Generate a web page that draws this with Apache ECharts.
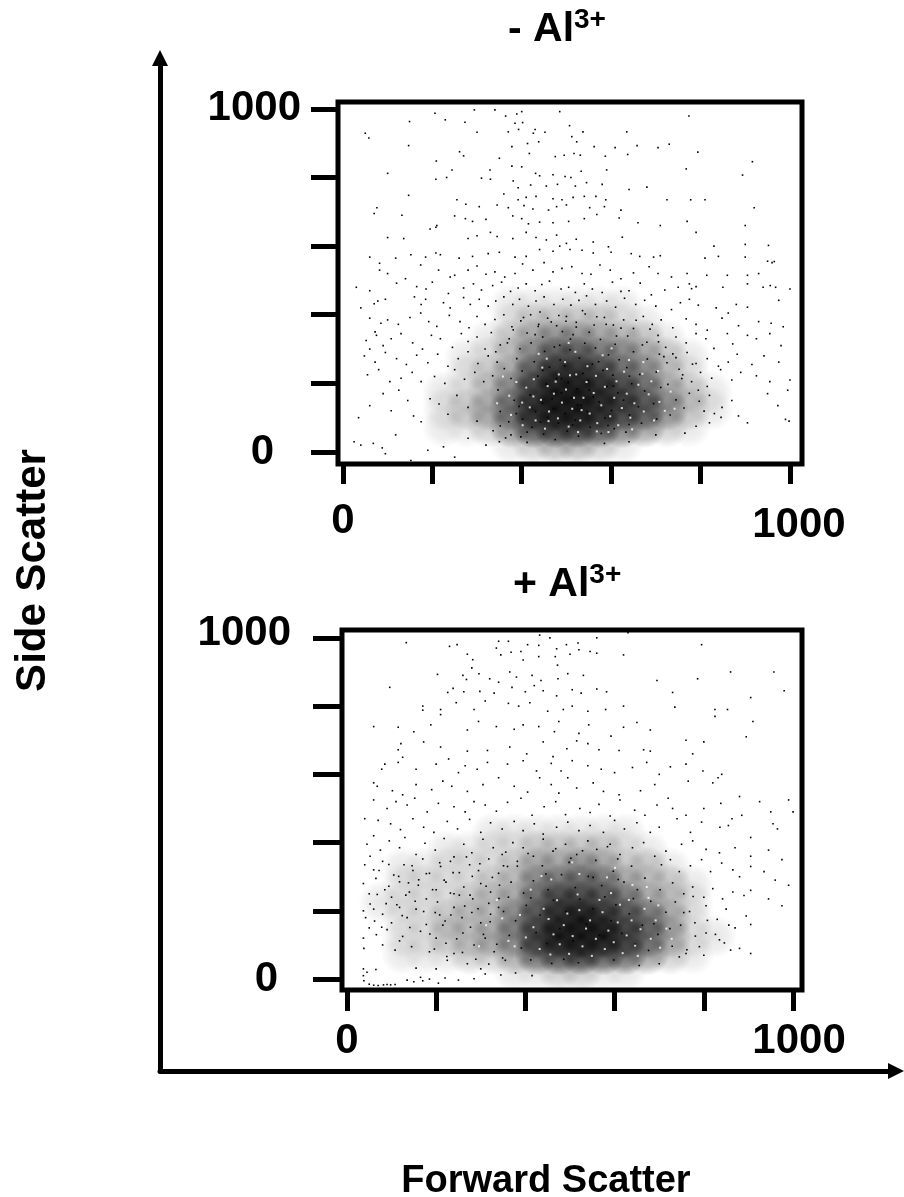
<!DOCTYPE html>
<html><head><meta charset="utf-8">
<style>html,body{margin:0;padding:0;background:#fff}#c{width:904px;height:1197px}</style>
<script src="https://cdn.jsdelivr.net/npm/echarts@6/dist/echarts.min.js"></script>
</head><body><div id="c"></div>
<script>
const tickValues=[0,200,400,600,800,1000];
const labelValues=[0,1000];
const panelTitles=['- Al','+ Al'];
const superscript='3+';
const xAxisName='Forward Scatter';
const yAxisName='Side Scatter';
// Darkness of the dot cloud (0-9); cell centres in axis units.
const densX=[25,75,125,175,225,275,325,375,425,475,525,575,625,675,725,775,825,875,925,975];
const densY=[25,75,125,175,225,275,325,375,425];
const dens1=[
[0,0,0,0,0,0,0,1,2,3,3,2,1,0,0,0,0,0,0,0],
[0,0,0,0,1,1,2,4,7,8,8,7,5,4,2,1,0,0,0,0],
[0,0,0,0,1,2,3,5,8,9,9,8,7,6,4,2,1,0,0,0],
[0,0,0,0,1,1,2,4,7,9,9,8,7,5,3,2,1,0,0,0],
[0,0,0,0,0,1,2,3,6,8,8,7,5,4,2,1,0,0,0,0],
[0,0,0,0,0,1,1,2,4,6,6,5,4,3,2,1,0,0,0,0],
[0,0,0,0,0,0,1,2,3,4,4,3,3,2,1,0,0,0,0,0],
[0,0,0,0,0,0,0,1,2,2,2,2,1,1,0,0,0,0,0,0],
[0,0,0,0,0,0,0,1,1,1,1,1,1,0,0,0,0,0,0,0]];
const dens2=[
[0,0,0,0,0,0,0,1,1,2,2,1,1,0,0,0,0,0,0,0],
[0,0,1,1,1,2,2,3,6,7,8,7,6,4,2,1,0,0,0,0],
[0,0,1,1,2,2,3,4,7,9,9,9,7,5,3,1,1,0,0,0],
[0,0,1,1,2,2,2,4,6,8,9,8,6,5,3,1,0,0,0,0],
[0,1,1,1,1,2,2,3,5,7,7,6,5,3,2,1,0,0,0,0],
[0,0,1,1,1,1,2,2,4,5,5,5,3,2,2,1,0,0,0,0],
[0,0,1,1,1,1,1,2,3,3,4,3,2,2,1,0,0,0,0,0],
[0,0,0,0,1,1,1,1,2,2,2,2,1,1,0,0,0,0,0,0],
[0,0,0,0,0,0,1,1,1,1,1,1,1,0,0,0,0,0,0,0]];
const dots1=[[50,929],[58,915],[149,963],[206,987],[229,968],[273,961],[294,997],[340,997],[364,979],[400,992],[389,985],[485,992],[774,979],[300,932],[385,958],[402,960],[393,940],[370,933],[430,940],[452,932],[426,929],[507,951],[512,919],[537,933],[635,933],[147,893],[378,890],[413,899],[438,904],[523,904],[562,890],[609,887],[658,893],[705,887],[730,897],[794,874],[261,875],[270,863],[209,848],[350,856],[417,870],[475,861],[495,865],[517,870],[531,865],[587,862],[637,867],[916,846],[100,812],[894,807],[768,825],[244,822],[329,822],[378,833],[400,831],[431,812],[440,805],[470,808],[497,803],[510,800],[533,818],[590,822],[310,798],[330,795],[208,795],[232,800],[381,790],[392,770],[420,778],[455,775],[480,780],[520,775],[545,785],[580,780],[640,765],[680,772],[147,748],[360,752],[392,735],[410,742],[432,745],[470,738],[490,735],[515,742],[540,745],[566,745],[588,735],[725,735],[778,735],[810,735],[255,735],[275,722],[305,715],[345,720],[370,712],[405,718],[425,708],[460,705],[478,715],[500,720],[552,712],[585,715],[622,705],[920,712],[76,712],[70,695],[132,690],[195,650],[250,688],[274,680],[290,672],[320,678],[380,688],[400,680],[415,665],[440,670],[470,668],[505,672],[540,680],[568,692],[618,682],[660,668],[710,660],[770,672],[100,625],[136,622],[208,655],[210,660],[280,622],[300,630],[330,640],[345,628],[380,622],[410,640],[432,625],[455,618],[478,632],[500,608],[522,620],[560,612],[594,598],[625,626],[790,640],[830,600],[900,660],[900,605],[952,602],[60,568],[82,550],[118,565],[152,575],[185,568],[208,580],[218,575],[260,565],[290,570],[325,578],[350,582],[385,568],[410,570],[440,590],[470,585],[485,600],[508,590],[535,588],[560,580],[600,582],[645,578],[664,570],[695,568],[710,572],[810,565],[840,570],[900,568],[950,556],[960,552],[965,555],[82,530],[100,520],[140,505],[174,545],[214,530],[240,510],[250,515],[280,530],[300,542],[320,518],[340,525],[362,510],[385,520],[402,548],[425,530],[450,552],[470,525],[490,535],[512,540],[535,520],[555,518],[575,545],[598,530],[622,505],[650,522],[685,540],[705,520],[735,510],[770,520],[814,515],[860,515],[905,515],[930,520],[968,480],[1000,475],[30,480],[60,470],[120,492],[165,482],[186,475],[200,495],[236,462],[270,478],[292,490],[310,472],[335,485],[355,495],[375,468],[392,478],[410,490],[430,470],[445,488],[462,498],[488,475],[505,480],[520,465],[540,490],[558,475],[580,465],[603,495],[622,468],[640,470],[665,492],[690,458],[720,472],[750,480],[775,490],[780,476],[790,482],[850,480],[905,490],[940,480],[956,485],[40,420],[70,432],[78,440],[95,445],[160,452],[175,430],[185,445],[225,435],[240,420],[270,450],[285,430],[305,445],[325,425],[342,440],[360,452],[380,430],[395,445],[415,425],[432,440],[450,452],[472,430],[492,445],[510,428],[528,442],[545,455],[565,430],[590,440],[610,422],[630,448],[655,430],[675,442],[700,425],[735,415],[755,435],[775,445],[795,428],[835,420],[862,405],[880,430],[905,422],[975,442],[60,390],[72,350],[85,375],[100,385],[124,372],[150,392],[174,405],[192,380],[210,366],[238,398],[262,380],[282,362],[300,395],[318,372],[340,386],[360,400],[378,365],[398,382],[420,400],[438,372],[458,390],[478,368],[500,395],[522,378],[542,402],[562,370],[585,392],[605,370],[628,385],[650,360],[672,395],[692,372],[712,385],[738,362],[768,388],[790,372],[815,355],[848,390],[885,368],[930,380],[958,375],[985,365],[52,325],[60,300],[75,340],[90,310],[108,330],[130,345],[156,318],[178,300],[198,340],[218,330],[245,305],[265,345],[280,322],[300,335],[318,300],[332,348],[352,312],[372,330],[680,320],[705,340],[722,305],[745,335],[768,318],[790,345],[812,330],[830,302],[860,345],[872,315],[905,340],[925,330],[955,345],[980,310],[48,280],[72,262],[95,290],[120,272],[142,255],[165,282],[190,260],[212,285],[235,250],[258,272],[280,292],[302,258],[325,280],[345,262],[708,285],[725,260],[745,275],[770,290],[790,258],[815,272],[840,250],[862,262],[882,285],[915,255],[942,280],[975,262],[55,225],[80,240],[105,205],[130,215],[155,232],[175,205],[205,220],[228,200],[250,240],[272,212],[295,232],[315,205],[335,222],[760,225],[780,205],[800,232],[825,215],[845,240],[870,210],[890,232],[925,222],[955,205],[1000,210],[995,180],[35,100],[60,135],[90,170],[108,120],[125,180],[145,150],[158,105],[175,88],[195,155],[215,140],[235,110],[255,165],[280,130],[300,90],[795,180],[820,165],[848,130],[870,150],[885,105],[905,85],[950,170],[973,135],[990,95],[998,90],[25,30],[40,20],[68,25],[88,12],[95,-5],[118,50],[152,-25],[190,5],[225,15],[250,-15],[280,40],[320,20],[350,30],[376,50],[412,28],[585,25],[640,30],[700,50],[765,55],[790,75],[820,85]];
const mid1=[[336,62],[352,118],[347,181],[361,243],[342,292],[371,88],[383,151],[376,214],[389,272],[368,318],[381,356],[398,44],[402,96],[394,133],[409,190],[401,236],[396,301],[412,347],[404,392],[423,72],[431,118],[419,166],[436,221],[428,263],[421,318],[437,366],[441,408],[449,52],[458,101],[446,142],[455,198],[462,247],[451,293],[447,335],[466,379],[475,36],[482,84],[471,127],[489,172],[478,214],[486,268],[473,306],[491,351],[483,398],[502,61],[497,112],[511,158],[504,203],[496,251],[508,298],[515,342],[499,381],[527,46],[520,93],[533,136],[524,184],[537,229],[529,274],[541,317],[522,364],[536,412],[553,72],[546,118],[560,161],[549,208],[558,256],[565,303],[551,349],[568,394],[578,54],[586,99],[573,146],[591,191],[582,238],[594,283],[576,328],[589,372],[607,68],[601,121],[615,172],[604,224],[618,269],[609,314],[622,361],[633,58],[641,108],[628,151],[646,199],[635,246],[650,292],[637,338],[656,384],[668,84],[661,132],[675,178],[664,226],[681,271],[670,312],[687,358],[702,96],[695,141],[711,188],[701,233],[718,278],[706,321],[732,108],[745,152],[727,197],[752,241],[738,286],[763,128],[775,171],[758,214],[782,256],[797,148],[808,119],[815,191],[831,112],[846,101],[352,76],[364,41],[412,58],[388,112],[442,87],[514,79],[468,155],[525,137],[593,77],[640,80],[489,214],[551,180],[605,192],[447,238],[572,263],[641,221],[509,329],[430,342],[485,311],[612,338]];
const flecks1=[[402,78],[418,130],[410,188],[431,92],[443,152],[427,212],[452,68],[461,118],[472,170],[446,246],[481,98],[490,144],[476,205],[497,262],[505,74],[513,126],[499,182],[522,226],[531,92],[538,158],[526,58],[545,204],[552,112],[561,172],[547,250],[569,84],[578,136],[566,222],[586,190],[598,104],[607,158],[591,242],[616,78],[624,128],[612,206],[635,170],[643,100],[629,234],[652,142],[661,196],[647,66],[673,118],[684,168],[670,228],[696,92],[708,146],[690,206],[720,120],[401,144],[388,204],[376,108],[458,192],[517,158],[483,226],[568,60],[594,58],[534,122],[460,90],[426,162],[508,224],[456,272],[520,292],[581,282],[640,268],[505,318],[438,286],[601,302],[672,262],[705,236],[733,176],[742,126],[372,164],[358,220],[345,142]];
const dots2=[[133,986],[432,1008],[455,1000],[340,990],[362,990],[450,1020],[560,1000],[630,1015],[247,980],[230,975],[335,970],[390,960],[405,980],[430,978],[492,980],[518,985],[470,968],[520,965],[795,980],[270,952],[282,936],[345,950],[368,958],[395,935],[430,945],[467,945],[472,920],[500,952],[545,960],[560,955],[620,950],[860,900],[957,900],[203,893],[260,890],[268,878],[280,912],[296,895],[320,880],[340,870],[365,900],[380,885],[415,890],[435,875],[473,880],[495,895],[530,890],[695,875],[786,880],[96,855],[226,840],[238,852],[262,842],[298,843],[330,838],[370,855],[400,842],[420,860],[440,845],[470,830],[505,848],[525,838],[560,850],[582,842],[730,840],[980,845],[905,825],[170,788],[170,800],[210,790],[245,810],[285,790],[310,815],[362,808],[385,800],[410,810],[450,785],[485,790],[505,800],[540,785],[580,790],[620,800],[735,797],[825,790],[853,790],[825,770],[910,755],[60,740],[115,738],[150,725],[188,745],[210,775],[270,730],[295,755],[335,740],[375,732],[395,745],[430,740],[465,725],[475,755],[520,720],[542,745],[592,712],[620,738],[650,752],[680,730],[760,700],[800,695],[895,710],[121,690],[115,672],[172,695],[210,680],[270,668],[315,670],[365,680],[403,660],[440,695],[462,652],[493,675],[515,698],[540,690],[565,672],[610,670],[665,672],[680,668],[775,660],[125,650],[78,615],[85,630],[115,635],[155,615],[200,630],[228,645],[250,605],[265,625],[292,615],[315,635],[360,630],[395,640],[425,610],[458,632],[480,610],[505,640],[540,625],[570,615],[600,605],[640,620],[672,635],[700,600],[725,622],[760,630],[798,610],[832,590],[840,600],[60,575],[68,565],[102,552],[125,540],[155,570],[190,555],[215,580],[235,565],[270,550],[305,570],[340,590],[375,565],[405,548],[432,590],[458,570],[475,545],[495,590],[515,560],[552,575],[575,550],[610,540],[658,552],[690,570],[720,530],[765,580],[820,575],[880,535],[925,520],[990,525],[60,525],[90,500],[110,520],[135,510],[152,530],[180,490],[205,515],[240,505],[265,490],[285,520],[310,510],[335,492],[360,518],[390,530],[415,480],[442,505],[468,520],[490,482],[522,500],[545,488],[565,512],[590,478],[612,525],[645,495],[668,480],[695,510],[730,500],[760,480],[800,500],[838,515],[863,470],[885,480],[950,490],[1000,490],[40,470],[70,465],[98,455],[120,438],[148,470],[172,445],[195,430],[225,462],[248,440],[275,468],[300,430],[322,458],[348,440],[375,462],[395,435],[420,455],[440,425],[470,445],[495,460],[520,435],[545,450],[575,430],[600,465],[622,440],[650,458],[680,430],[700,445],[740,470],[770,430],[795,460],[836,445],[855,450],[905,415],[955,455],[965,440],[60,420],[45,395],[75,378],[52,360],[95,405],[118,385],[130,415],[155,365],[175,398],[198,378],[218,412],[240,358],[262,395],[280,370],[305,410],[328,385],[348,365],[372,400],[395,385],[418,360],[440,410],[462,375],[490,395],[515,365],[540,405],[560,380],[590,395],[612,365],[640,385],[665,400],[690,360],[715,375],[750,395],[775,405],[805,380],[835,370],[870,385],[905,360],[945,378],[975,350],[40,335],[60,320],[80,345],[105,305],[128,335],[148,318],[170,352],[185,310],[210,330],[232,345],[252,312],[275,335],[295,318],[318,352],[340,310],[360,330],[382,345],[705,335],[725,350],[745,315],[770,332],[795,350],[815,315],[840,340],[865,320],[880,300],[905,330],[935,315],[960,290],[990,275],[37,280],[50,250],[65,295],[85,262],[100,240],[118,285],[140,255],[160,275],[178,235],[200,262],[218,290],[240,250],[262,270],[282,235],[300,280],[322,255],[342,275],[362,240],[730,282],[755,250],[775,270],[800,240],[820,265],[842,235],[865,255],[890,245],[905,260],[945,235],[975,215],[37,200],[52,220],[42,180],[60,205],[62,170],[80,190],[100,165],[118,210],[135,180],[155,205],[178,160],[198,195],[220,170],[240,210],[258,180],[280,195],[300,165],[322,190],[340,210],[755,195],[780,165],[805,215],[830,175],[850,205],[870,150],[895,185],[905,160],[37,120],[38,90],[50,150],[66,130],[80,100],[90,145],[108,85],[125,125],[145,95],[165,140],[185,80],[200,120],[222,105],[240,75],[260,135],[285,100],[310,120],[330,80],[355,55],[790,95],[805,135],[835,115],[860,85],[880,90],[905,75],[37,30],[37,10],[38,-5],[50,-15],[60,-18],[70,-19],[82,-17],[90,-16],[98,-17],[108,-16],[45,20],[65,28],[135,-3],[150,-8],[165,5],[170,-5],[185,0],[205,-12],[220,3],[250,-3],[285,1],[310,15],[345,12],[378,18],[415,10],[155,32],[200,30],[225,55],[270,45],[300,30],[655,40],[700,45],[745,65],[760,75],[800,70]];
const mid2=[[72,318],[94,272],[88,221],[116,301],[132,246],[124,186],[146,332],[161,291],[153,228],[141,151],[178,309],[192,262],[172,198],[186,132],[208,341],[222,284],[203,226],[215,158],[196,88],[238,312],[252,246],[233,188],[246,118],[224,66],[268,358],[281,301],[264,214],[277,152],[259,78],[298,338],[312,272],[294,206],[306,131],[289,58],[326,298],[341,236],[321,168],[336,102],[318,44],[356,372],[368,284],[351,198],[364,128],[349,62],[382,331],[396,252],[378,171],[391,91],[406,368],[418,288],[402,216],[424,136],[412,56],[438,332],[451,262],[433,188],[448,104],[468,382],[481,306],[463,231],[477,148],[459,46],[498,342],[512,268],[491,198],[507,112],[486,58],[528,376],[541,301],[522,234],[537,162],[519,48],[558,348],[571,274],[552,206],[566,128],[584,388],[597,316],[578,241],[592,171],[607,352],[621,284],[603,218],[616,134],[598,56],[638,331],[651,262],[633,191],[646,102],[668,296],[681,228],[662,158],[676,84],[702,262],[715,196],[697,131],[736,226],[748,158],[729,96],[768,198],[781,126],[762,86],[808,172],[826,131],[846,106],[856,158],[94,336],[68,248],[118,112],[78,152],[138,282],[112,218],[208,188],[232,252],[276,246],[318,222],[351,332],[412,238],[446,308],[502,354],[552,298],[608,292],[642,236],[688,162],[724,148],[776,242]];
const flecks2=[[432,88],[418,152],[441,206],[456,72],[463,131],[452,176],[477,102],[486,158],[471,231],[498,74],[506,126],[494,192],[517,248],[528,96],[536,148],[521,202],[549,68],[558,118],[545,172],[566,232],[578,88],[586,142],[573,196],[598,108],[607,166],[592,252],[618,76],[627,128],[612,218],[638,172],[646,98],[632,232],[658,146],[667,206],[652,68],[681,118],[692,172],[676,238],[702,92],[716,148],[698,216],[728,118],[401,122],[388,188],[376,96],[412,262],[458,292],[521,308],[583,298],[640,276],[505,342],[436,302],[601,326],[672,270],[348,178],[362,112],[336,232],[312,158],[296,96]];
const panels=[
 {dots:dots1,mid:mid1,flecks:flecks1,dens:dens1},
 {dots:dots2,mid:mid2,flecks:flecks2,dens:dens2}];
const grids=[{left:160,right:8,top:58,bottom:126,show:false,outerBoundsMode:'none'},
 {left:338,top:102,width:464,height:362,show:true,borderColor:'#000',borderWidth:5,backgroundColor:'transparent',z:5,outerBoundsMode:'none'},
 {left:342,top:630,width:460,height:360,show:true,borderColor:'#000',borderWidth:5,backgroundColor:'transparent',z:5,outerBoundsMode:'none'}];
const FONT='"Liberation Sans",Arial,sans-serif';
const label=(rich,fn,margin)=>({show:true,customValues:labelValues,margin,formatter:fn,fontFamily:FONT,fontWeight:'bold',fontSize:42,color:'#000',rich});
const base=(s)=>Object.assign({fontFamily:FONT,fontWeight:'bold',fontSize:42,color:'#000'},s);
const xAxes=[{gridIndex:0,type:'value',min:0,max:1,axisTick:{show:false},axisLabel:{show:false},splitLine:{show:false},
  axisLine:{show:true,onZero:false,symbol:['none','triangle'],symbolSize:[16,16],lineStyle:{color:'#000',width:5}},
  name:xAxisName,nameLocation:'middle',nameGap:92,nameTextStyle:{fontFamily:FONT,fontWeight:'bold',fontSize:38,color:'#000',padding:[0,0,0,36]}},
 {gridIndex:1,type:'value',min:-11,max:1027,splitLine:{show:false},axisLine:{show:false,onZero:false},
  axisTick:{show:true,customValues:tickValues,length:20,lineStyle:{color:'#000',width:5}},
  axisLabel:label({z:base({}),m:base({padding:[4,0,0,18]})},v=>v===0?'{z|0}':'{m|1000}',36)},
 {gridIndex:2,type:'value',min:-11,max:1020,splitLine:{show:false},axisLine:{show:false,onZero:false},
  axisTick:{show:true,customValues:tickValues,length:21,lineStyle:{color:'#000',width:5}},
  axisLabel:label({z:base({}),m:base({padding:[0,0,0,12]})},v=>v===0?'{z|0}':'{m|1000}',30)}];
const yAxes=[{gridIndex:0,type:'value',min:0,max:1,axisTick:{show:false},axisLabel:{show:false},splitLine:{show:false},
  axisLine:{show:true,onZero:false,symbol:['none','triangle'],symbolSize:[16,16],lineStyle:{color:'#000',width:5}},
  name:yAxisName,nameLocation:'middle',nameGap:106,nameTextStyle:{fontFamily:FONT,fontWeight:'bold',fontSize:42,color:'#000',padding:[0,12,0,0]}},
 {gridIndex:1,type:'value',min:-35,max:1020,splitLine:{show:false},axisLine:{show:false,onZero:false},
  axisTick:{show:true,customValues:tickValues,length:27,lineStyle:{color:'#000',width:5}},
  axisLabel:label({z:base({padding:[0,27,0,0]}),m:base({})},v=>v===0?'{z|0}':'{m|1000}',37)},
 {gridIndex:2,type:'value',min:-32,max:1023,splitLine:{show:false},axisLine:{show:false,onZero:false},
  axisTick:{show:true,customValues:tickValues,length:29,lineStyle:{color:'#000',width:5}},
  axisLabel:label({z:base({padding:[0,13,0,0]}),m:base({padding:[0,0,8,0]})},v=>v===0?'{z|0}':'{m|1000}',51)}];
const series=[];
const cloudFill={type:'radial',x:0.5,y:0.5,r:0.5,colorStops:[{offset:0,color:'rgba(0,0,0,1)'},{offset:0.6,color:'rgba(0,0,0,0.6)'},{offset:1,color:'rgba(0,0,0,0)'}]};
panels.forEach((p,i)=>{
 const cells=[];
 p.dens.forEach((row,r)=>row.forEach((d,c)=>{ if(d>0) cells.push({value:[densX[c],densY[r]],itemStyle:{opacity:(d/9)*0.9}}); }));
 const common={type:'scatter',xAxisIndex:i+1,yAxisIndex:i+1,silent:true,animation:false};
 series.push(Object.assign({},common,{symbol:'circle',symbolSize:44,data:cells,z:1,itemStyle:{color:cloudFill}}));
 series.push(Object.assign({},common,{symbol:'rect',symbolSize:1.6,data:p.mid,z:2,itemStyle:{color:'#000',opacity:1}}));
 series.push(Object.assign({},common,{symbol:'rect',symbolSize:2,data:p.flecks,z:3,itemStyle:{color:'#fff',opacity:0.8}}));
 series.push(Object.assign({},common,{symbol:'rect',symbolSize:1.6,data:p.dots,z:4,itemStyle:{color:'#000',opacity:1}}));
});
const titleRich={a:{fontFamily:FONT,fontWeight:'bold',fontSize:41,color:'#000',lineHeight:48},s:{fontFamily:FONT,fontWeight:'bold',fontSize:28,color:'#000',verticalAlign:'top',lineHeight:28,padding:[0,0,12,0]}};
const titles=[{left:503,top:1,text:`{a|${panelTitles[0]}}{s|${superscript}}`,textStyle:{rich:titleRich}},
 {left:508,top:556,text:`{a|${panelTitles[1]}}{s|${superscript}}`,textStyle:{rich:titleRich}}];
const chart=echarts.init(document.getElementById('c'),null,{renderer:'canvas'});
chart.setOption({animation:false,backgroundColor:'#fff',title:titles,grid:grids,xAxis:xAxes,yAxis:yAxes,series});
</script></body></html>
